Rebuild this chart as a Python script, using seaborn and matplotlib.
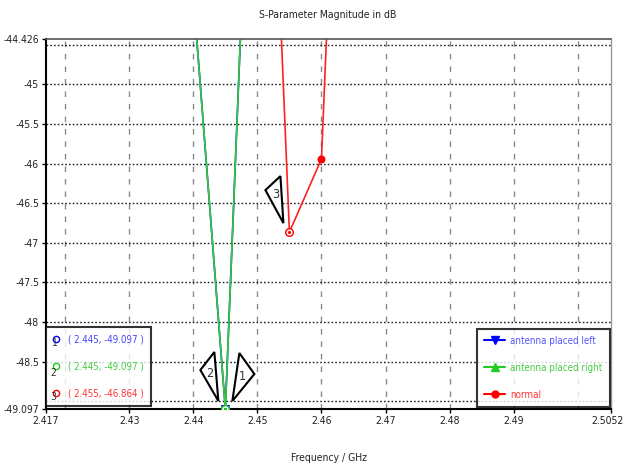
import numpy as np
import pandas as pd
import matplotlib
matplotlib.use("Agg")
import matplotlib.pyplot as plt
import matplotlib.transforms as mtransforms
from matplotlib.patches import Polygon
from matplotlib.lines import Line2D
import seaborn as sns

# S11 curves (GHz, dB)
freq_left = [2.435, 2.44, 2.445, 2.45, 2.455]
s11_left = [-38.5, -43.87, -49.097, -39.13, -32.0]
freq_right = [2.435, 2.44, 2.445, 2.45, 2.455]
s11_right = [-38.5, -43.87, -49.097, -39.13, -32.0]
freq_normal = [2.445, 2.45, 2.455, 2.46, 2.465]
s11_normal = [-29.0, -37.1, -46.864, -45.94, -36.25]

# CST curve markers
marker_ids = ["1", "2", "3"]
marker_freq = [2.445, 2.445, 2.455]
marker_db = [-49.097, -49.097, -46.864]
marker_colors = ["#0000ff", "#22cc22", "#ff0000"]

x_ticks = [2.417, 2.43, 2.44, 2.45, 2.46, 2.47, 2.48, 2.49, 2.5052]
x_labels = ["2.417", "2.43", "2.44", "2.45", "2.46", "2.47", "2.48", "2.49", "2.5052"]
y_ticks = [-44.426, -45, -45.5, -46, -46.5, -47, -47.5, -48, -48.5, -49.097]
y_labels = ["-44.426", "-45", "-45.5", "-46", "-46.5", "-47", "-47.5", "-48", "-48.5", "-49.097"]
x_grid = [2.42, 2.43, 2.44, 2.45, 2.46, 2.47, 2.48, 2.49, 2.50]
y_grid = [-44.5, -45, -45.5, -46, -46.5, -47, -47.5, -48, -48.5, -49.0]

sns.set_theme(style="white")
plt.rcParams['font.family'] = ['DejaVu Sans']
plt.rcParams['font.stretch'] = 'condensed'

fig = plt.figure(figsize=(6.25, 4.69), dpi=100)
ax = fig.add_axes([0.0736, 0.1279, 0.904, 0.789])

# grid (CST style: dashed verticals, dotted horizontals)
for gx in x_grid:
    ax.axvline(gx, color="#8a8a8a", ls=(0, (4, 5)), lw=1.0, zorder=0)
for gy in y_grid:
    ax.axhline(gy, color="#202020", ls=(0, (1.2, 1.5)), lw=1.0, zorder=0)

sns.lineplot(x=freq_left, y=s11_left, color="#0000ff", lw=1.2, marker="v", ms=6,
             mec="#0000ff", mfc="#0000ff", markevery=[2], ax=ax)
sns.lineplot(x=freq_right, y=s11_right, color="#33cc33", lw=1.2, marker="^", ms=6,
             mec="#22bb22", mfc="#22bb22", markevery=[2], ax=ax)
sns.lineplot(x=freq_normal, y=s11_normal, color="#ff2020", lw=1.2, marker="o", ms=5,
             mec="#ff0000", mfc="#ff0000", markevery=[3], ax=ax)

# marker symbols (hollow circle with dot)
for f, d, c in zip(marker_freq, marker_db, marker_colors):
    ax.plot(f, d, marker="o", ms=5.5, mfc="white", mec=c, mew=1.0, ls="none", zorder=5)
    ax.plot(f, d, marker=".", ms=2.5, color=c, ls="none", zorder=6)

ax.set_xlim(2.417, 2.5052)
ax.set_ylim(-49.097, -44.426)
ax.set_xticks(x_ticks)
ax.set_xticklabels(x_labels)
ax.set_yticks(y_ticks)
ax.set_yticklabels(y_labels)
ax.grid(False)
ax.tick_params(which="major", length=3, width=1, color="black", pad=2, labelsize=7.5,
               labelcolor="#222222", bottom=True, left=True)
# keep last x label inside the canvas
last = ax.get_xticklabels()[-1]
last.set_transform(last.get_transform() + mtransforms.ScaledTranslation(-0.04, 0, fig.dpi_scale_trans))

for side in ["left", "bottom"]:
    ax.spines[side].set_color("black")
    ax.spines[side].set_linewidth(1.5)
ax.spines["top"].set_color("#555555")
ax.spines["top"].set_linewidth(1.2)
ax.spines["right"].set_color("#999999")
ax.spines["right"].set_linewidth(1.0)

# callouts for markers, vertices in pixels relative to the marker
callouts = {
    "1": ([(14, 56), (29, 35), (7, 8)], (17, 33)),
    "2": ([(-11, 57), (-25, 39), (-7, 8)], (-16, 36)),
    "3": ([(-9, 56), (-24, 42), (-6, 9)], (-14, 38)),
}
for mid, f, d in zip(marker_ids, marker_freq, marker_db):
    verts, tpos = callouts[mid]
    trans = fig.dpi_scale_trans + mtransforms.ScaledTranslation(f, d, ax.transData)
    poly = Polygon([(vx / 100, vy / 100) for vx, vy in verts], closed=True,
                   fc="white", ec="black", lw=1.5, transform=trans, zorder=7, clip_on=False)
    ax.add_patch(poly)
    ax.text(tpos[0] / 100, tpos[1] / 100, mid, transform=trans, ha="center", va="center",
            fontsize=9, color="#333333", zorder=8)

# marker value box (left)
mk_handles = [Line2D([], [], ls="none", marker="o", ms=4.5, mfc="white", mec=c, mew=1.0)
              for c in marker_colors]
mk_labels = ["( %.3f, %.3f )" % (f, d) for f, d in zip(marker_freq, marker_db)]
leg1 = ax.legend(mk_handles, mk_labels, loc="lower left", bbox_to_anchor=(0.0, 0.008),
                 borderaxespad=0, fontsize=7, frameon=True, fancybox=False, handlelength=0.6,
                 handletextpad=0.9, labelspacing=1.75, borderpad=0.75)
leg1.get_frame().set_edgecolor("black")
leg1.get_frame().set_linewidth(1.5)
for t, c in zip(leg1.get_texts(), ["#4444ff", "#44cc44", "#ff3333"]):
    t.set_color(c)
ax.add_artist(leg1)
for mid, yy in zip(marker_ids, [0.178, 0.097, 0.032]):
    ax.text(0.0135, yy, mid, transform=ax.transAxes, fontsize=7.5, color="#333333",
            ha="center", va="center", zorder=10)

# curve legend (right)
lg_handles = [
    Line2D([], [], color="#0000ff", lw=1.5, marker="v", ms=6),
    Line2D([], [], color="#22cc22", lw=1.5, marker="^", ms=6),
    Line2D([], [], color="#ff0000", lw=1.5, marker="o", ms=5),
]
lg_labels = ["antenna placed left", "antenna placed right", "normal"]
leg2 = ax.legend(lg_handles, lg_labels, loc="lower right", bbox_to_anchor=(0.998, 0.005),
                 borderaxespad=0, fontsize=7, frameon=True, fancybox=False, handlelength=2.2,
                 handletextpad=0.5, labelspacing=1.75, borderpad=0.75)
leg2.get_frame().set_edgecolor("black")
leg2.get_frame().set_linewidth(1.5)
for t, c in zip(leg2.get_texts(), ["#5555ff", "#44cc44", "#ff3333"]):
    t.set_color(c)

fig.text(0.524, 0.968, "S-Parameter Magnitude in dB", ha="center", va="center",
         fontsize=7.5, color="#222222")
fig.text(0.526, 0.023, "Frequency / GHz", ha="center", va="center", fontsize=7.5, color="#222222")

fig.savefig("out.png", dpi=100)
